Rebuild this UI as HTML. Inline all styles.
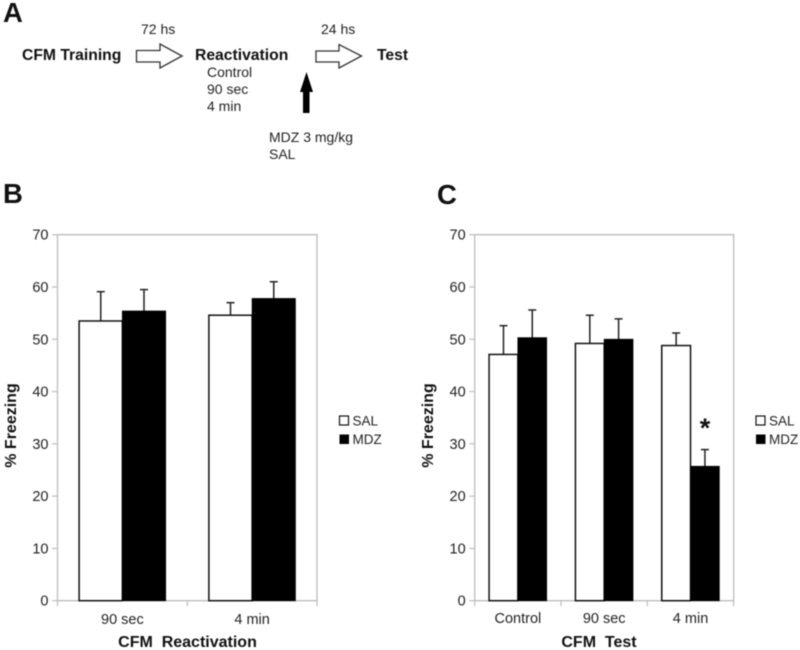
<!DOCTYPE html>
<html>
<head>
<meta charset="utf-8">
<title>CFM Reactivation and Test Freezing</title>
<style>
html,body{margin:0;padding:0;background:#fff;width:800px;height:650px;overflow:hidden}
svg{display:block;filter:blur(0.4px)}
text{font-family:"Liberation Sans",Arial,sans-serif;fill:#222;white-space:pre}
.panel{font-size:27.5px;font-weight:bold;fill:#111}
.dg{font-size:14px}
.dgb{font-size:15.7px;font-weight:bold;fill:#111}
.tick{font-size:14.5px}
.legend{font-size:13.5px}
.title{font-size:16px;font-weight:bold;fill:#111}
</style>
</head>
<body>
<svg id="fig" xmlns="http://www.w3.org/2000/svg" width="800" height="650" viewBox="0 0 800 650">
  <rect width="800" height="650" fill="#fff"/>

  <g>
    <text class="panel" x="3" y="22">A</text>
    <text class="dgb" x="22" y="60">CFM Training</text>
    <text class="dgb" x="195" y="60">Reactivation</text>
    <text class="dgb" x="377" y="60">Test</text>
    <text class="dg" x="141" y="34">72 hs</text>
    <text class="dg" x="321" y="34">24 hs</text>
    <text class="dg" x="207" y="77">Control</text>
    <text class="dg" x="207" y="94">90 sec</text>
    <text class="dg" x="207" y="111">4 min</text>
    <text class="dg" x="269" y="142">MDZ 3 mg/kg</text>
    <text class="dg" x="269" y="159">SAL</text>
    <path d="M136.5 50.5H160V44L182 56L160 68V62H136.5Z" fill="#fff" stroke="#333" stroke-width="1.3"/>
    <path d="M316 51H339V44.5L361.5 56L339 68V62H316Z" fill="#fff" stroke="#333" stroke-width="1.3"/>
    <path d="M306.5 72L313 92H309.5V113H303V92H300Z" fill="#000"/>
  </g>

  <text class="panel" x="3" y="203">B</text>
  <text class="panel" x="437" y="204">C</text>
  <g id="chartB"></g>
  <g id="chartC"></g>
  <text x="705" y="437" font-size="27" font-weight="bold" text-anchor="middle" style="fill:#111">*</text>
</svg>

<script>
var yTicks = [0, 10, 20, 30, 40, 50, 60, 70];

var bCategories = ["90 sec", "4 min"];
var bSal = [53.5, 54.6];
var bMdz = [55.4, 57.8];
var bSalErr = [5.6, 2.4];
var bMdzErr = [4.1, 3.2];

var cCategories = ["Control", "90 sec", "4 min"];
var cSal = [47.1, 49.2, 48.8];
var cMdz = [50.3, 50.0, 25.7];
var cSalErr = [5.5, 5.4, 2.4];
var cMdzErr = [5.3, 3.9, 3.2];

var NS = "http://www.w3.org/2000/svg";

function make(parent, tag, attrs, txt) {
  var el = document.createElementNS(NS, tag);
  for (var k in attrs) el.setAttribute(k, attrs[k]);
  if (txt !== undefined) el.textContent = txt;
  parent.appendChild(el);
  return el;
}

function drawChart(rootId, cfg) {
  var root = document.getElementById(rootId);
  var left = cfg.left, right = cfg.right, top = 234.7, bottom = 600.7;
  var maxY = yTicks[yTicks.length - 1];
  function y(v) { return bottom - (v / maxY) * (bottom - top); }
  var groupW = (right - left) / cfg.categories.length;
  var barW = groupW / 3;
  function groupX(i) { return left + i * groupW; }

  var frame = make(root, "path", {d: "M" + left + " " + bottom + "V" + top + "H" + right + "V" + bottom, fill: "none", stroke: "#bdbdbd", "stroke-width": 1.3});
  
  

  var axis = make(root, "line", {x1: left, x2: right, y1: bottom, y2: bottom, stroke: "#bdbdbd", "stroke-width": 1.3});
  
  

  yTicks.forEach(function (t) {
    var tk = make(root, "line", {x1: left - 5.5, x2: left, y1: y(t), y2: y(t), stroke: "#bdbdbd", "stroke-width": 1.2});
    
    
    var lb = make(root, "text", {x: left - 9, y: y(t) + 5, "text-anchor": "end", "class": "tick"}, String(t));
    
    
  });

  for (var g = 0; g <= cfg.categories.length; g++) {
    var xt = make(root, "line", {x1: groupX(g), x2: groupX(g), y1: bottom, y2: bottom + 5.5, stroke: "#bdbdbd", "stroke-width": 1.2});
    
    
  }

  function errorBar(cx, v, e) {
    var s = make(root, "line", {x1: cx, x2: cx, y1: y(v), y2: y(v + e), stroke: "#222", "stroke-width": 1.5});
    
    
    var c = make(root, "line", {x1: cx - 4, x2: cx + 4, y1: y(v + e), y2: y(v + e), stroke: "#222", "stroke-width": 1.5});
    
    
  }

  cfg.categories.forEach(function (cat, i) {
    var x0 = groupX(i) + barW / 2;

    errorBar(x0 + barW / 2, cfg.sal[i], cfg.salErr[i]);
    var w = make(root, "rect", {x: x0, y: y(cfg.sal[i]), width: barW, height: bottom - y(cfg.sal[i]), fill: "#fff", stroke: "#111", "stroke-width": 1.5});
    
    

    errorBar(x0 + barW * 1.5, cfg.mdz[i], cfg.mdzErr[i]);
    var k = make(root, "rect", {x: x0 + barW, y: y(cfg.mdz[i]), width: barW, height: bottom - y(cfg.mdz[i]), fill: "#000", stroke: "#000", "stroke-width": 0.8});
    
    

    var lb = make(root, "text", {x: groupX(i) + groupW / 2, y: cfg.xLabelY, "text-anchor": "middle", "class": "tick"}, cat);
    
    
  });

  var tx = make(root, "text", {x: cfg.titleX, y: 647, "text-anchor": "middle", "class": "title"}, cfg.xTitle);
  
  

  var ty = make(root, "text", {transform: "translate(" + cfg.yTitleX + " 425.5) rotate(-90)", "text-anchor": "middle", "class": "title"}, "% Freezing");
  
  

  var b1 = make(root, "rect", {x: cfg.legendX, y: 416, width: 9, height: 9, fill: "#fff", stroke: "#111", "stroke-width": 1.2});
  
  
  var l1 = make(root, "text", {x: cfg.legendX + 13, y: 425.5, "class": "legend"}, "SAL");
  
  
  var b2 = make(root, "rect", {x: cfg.legendX, y: 434.5, width: 9.5, height: 9.5, fill: "#000"});
  
  
  var l2 = make(root, "text", {x: cfg.legendX + 13, y: 444, "class": "legend"}, "MDZ");
  
  
}

drawChart("chartB", {left: 57.5, right: 317, categories: bCategories, sal: bSal, mdz: bMdz, salErr: bSalErr, mdzErr: bMdzErr, xTitle: "CFM  Reactivation", titleX: 187.5, yTitleX: 16, legendX: 339.5, xLabelY: 624});
drawChart("chartC", {left: 474.7, right: 733.7, categories: cCategories, sal: cSal, mdz: cMdz, salErr: cSalErr, mdzErr: cMdzErr, xTitle: "CFM  Test", titleX: 599, yTitleX: 433, legendX: 756, xLabelY: 623});
</script>
</body>
</html>
